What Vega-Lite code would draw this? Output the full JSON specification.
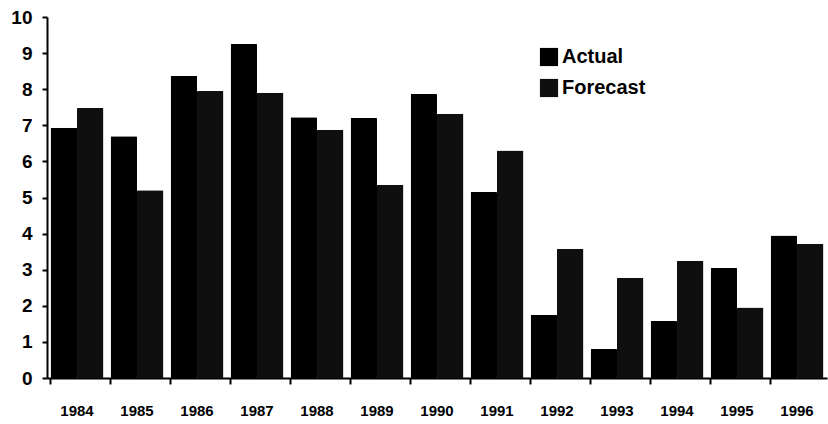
{
  "$schema": "https://vega.github.io/schema/vega-lite/v6.json",
  "autosize": "none",
  "width": 780,
  "height": 361,
  "padding": {"left": 47, "top": 17, "right": 1, "bottom": 46},
  "background": "white",
  "data": {
    "values": [
      {"year": "1984", "series": "Actual", "value": 6.93},
      {"year": "1984", "series": "Forecast", "value": 7.48},
      {"year": "1985", "series": "Actual", "value": 6.7},
      {"year": "1985", "series": "Forecast", "value": 5.2},
      {"year": "1986", "series": "Actual", "value": 8.37},
      {"year": "1986", "series": "Forecast", "value": 7.95},
      {"year": "1987", "series": "Actual", "value": 9.25},
      {"year": "1987", "series": "Forecast", "value": 7.9},
      {"year": "1988", "series": "Actual", "value": 7.22},
      {"year": "1988", "series": "Forecast", "value": 6.88},
      {"year": "1989", "series": "Actual", "value": 7.2},
      {"year": "1989", "series": "Forecast", "value": 5.35},
      {"year": "1990", "series": "Actual", "value": 7.87},
      {"year": "1990", "series": "Forecast", "value": 7.32},
      {"year": "1991", "series": "Actual", "value": 5.15},
      {"year": "1991", "series": "Forecast", "value": 6.3},
      {"year": "1992", "series": "Actual", "value": 1.75},
      {"year": "1992", "series": "Forecast", "value": 3.58},
      {"year": "1993", "series": "Actual", "value": 0.8},
      {"year": "1993", "series": "Forecast", "value": 2.78},
      {"year": "1994", "series": "Actual", "value": 1.58},
      {"year": "1994", "series": "Forecast", "value": 3.25},
      {"year": "1995", "series": "Actual", "value": 3.05},
      {"year": "1995", "series": "Forecast", "value": 1.95},
      {"year": "1996", "series": "Actual", "value": 3.95},
      {"year": "1996", "series": "Forecast", "value": 3.72}
    ]
  },
  "config": {
    "view": {"stroke": null},
    "font": "Liberation Sans",
    "axis": {
      "grid": false,
      "domainColor": "black",
      "domainWidth": 2,
      "tickColor": "black",
      "tickWidth": 2,
      "labelColor": "black",
      "labelFontWeight": "bold",
      "title": null
    }
  },
  "mark": {"type": "bar", "cornerRadius": 1},
  "encoding": {
    "x": {
      "field": "year",
      "type": "nominal",
      "scale": {"paddingInner": 0.12, "paddingOuter": 0.06},
      "axis": {
        "labelAngle": 0,
        "labelFontSize": 15,
        "labelPadding": 19,
        "tickSize": 6,
        "bandPosition": 0
      }
    },
    "xOffset": {
      "field": "series",
      "type": "nominal",
      "scale": {"paddingInner": 0, "paddingOuter": 0}
    },
    "y": {
      "field": "value",
      "type": "quantitative",
      "scale": {"domain": [0, 10], "nice": false},
      "axis": {
        "values": [0, 1, 2, 3, 4, 5, 6, 7, 8, 9, 10],
        "labelFontSize": 19,
        "labelPadding": 10,
        "tickSize": 5
      }
    },
    "color": {
      "field": "series",
      "type": "nominal",
      "scale": {"domain": ["Actual", "Forecast"], "range": ["#000000", "#0f0f0f"]},
      "legend": {
        "title": null,
        "orient": "none",
        "legendX": 492,
        "legendY": 30,
        "symbolType": "square",
        "symbolSize": 330,
        "symbolStrokeWidth": 0,
        "labelFontSize": 20,
        "labelFontWeight": "bold",
        "labelColor": "black",
        "labelOffset": 3,
        "rowPadding": 11
      }
    }
  }
}
